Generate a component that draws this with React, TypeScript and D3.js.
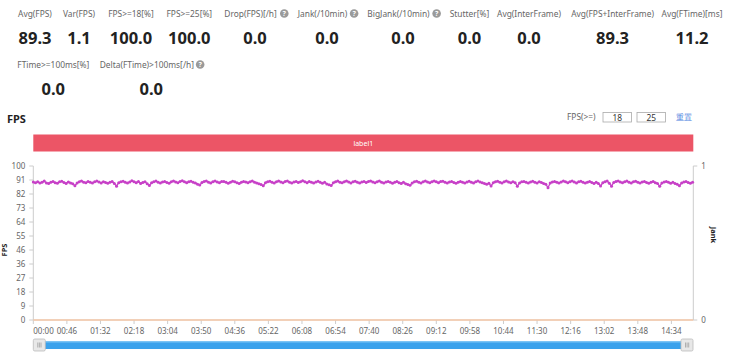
import React from "react";
import * as d3 from "d3";

// ---------- data ----------
const statLabels = [
  "Avg(FPS)", "Var(FPS)", "FPS>=18[%]", "FPS>=25[%]", "Drop(FPS)[/h]", "Jank(/10min)",
  "BigJank(/10min)", "Stutter[%]", "Avg(InterFrame)", "Avg(FPS+InterFrame)", "Avg(FTime)[ms]",
];
const statValues = ["89.3", "1.1", "100.0", "100.0", "0.0", "0.0", "0.0", "0.0", "0.0", "89.3", "11.2"];
const statHelp = [false, false, false, false, true, true, true, false, false, false, false];

const stat2Labels = ["FTime>=100ms[%]", "Delta(FTime)>100ms[/h]"];
const stat2Values = ["0.0", "0.0"];
const stat2Help = [false, true];

const yTickLabels = ["0", "9", "18", "27", "36", "46", "55", "64", "73", "82", "91", "100"];
const xTickLabels = [
  "00:00", "00:46", "01:32", "02:18", "03:04", "03:50", "04:36", "05:22", "06:08", "06:54",
  "07:40", "08:26", "09:12", "09:58", "10:44", "11:30", "12:16", "13:02", "13:48", "14:34",
];
const jankTickLabels = ["0", "1"];

const sampleStepSec = 3;
const totalSec = 904;
const fpsValues = [
  89.6, 89.1, 89.8, 88.9, 89.4, 90.2, 89.0, 88.6, 89.5, 89.9, 89.2, 88.8, 89.7, 90.1, 89.3, 88.7, 89.6, 89.0, 88.4, 87.2,
  88.9, 89.8, 90.3, 89.5, 89.1, 90.0, 89.4, 88.9, 89.7, 90.2, 89.6, 89.0, 89.8, 89.3, 88.8, 89.5, 89.9, 88.6, 86.9, 89.2,
  89.7, 90.1, 89.4, 88.9, 89.6, 90.4, 89.8, 89.2, 89.9, 88.7, 89.3, 89.8, 88.5, 87.4, 89.1, 89.7, 90.2, 89.5, 88.9, 89.6,
  90.0, 89.3, 88.8, 89.7, 90.3, 89.6, 89.1, 89.9, 90.4, 89.7, 89.2, 89.8, 90.1, 89.4, 88.9, 88.2, 87.6, 89.3, 89.9, 90.2,
  89.5, 89.0, 89.8, 90.3, 89.6, 89.2, 89.9, 90.0, 89.4, 88.8, 89.5, 90.1, 89.7, 89.1, 88.6, 89.4, 90.0, 89.6, 89.2, 89.8,
  90.2, 89.5, 89.0, 88.4, 88.0, 87.1, 89.2, 89.8, 90.1, 89.4, 89.0, 89.7, 90.3, 89.6, 89.1, 89.9, 90.2, 89.5, 88.9, 89.6,
  90.0, 89.3, 89.8, 90.4, 89.7, 89.2, 89.9, 89.5, 88.9, 89.6, 90.1, 89.4, 88.8, 89.5, 88.3, 87.8, 87.3, 89.1, 89.8, 90.2,
  89.5, 89.1, 89.8, 90.3, 89.6, 89.0, 89.7, 90.1, 89.4, 88.9, 89.6, 90.0, 89.3, 89.9, 90.3, 89.6, 89.1, 89.8, 90.2, 89.5,
  88.9, 89.6, 90.0, 89.4, 88.8, 89.5, 89.9, 89.2, 88.7, 89.4, 88.5, 88.0, 87.5, 89.0, 89.7, 90.1, 89.5, 89.0, 89.7, 90.2,
  89.6, 89.1, 89.8, 90.3, 89.7, 89.2, 89.9, 90.1, 89.5, 88.9, 89.6, 90.0, 89.3, 88.8, 89.5, 89.9, 89.4, 88.9, 89.6, 90.1,
  89.5, 89.0, 89.7, 90.2, 89.6, 89.1, 88.6, 88.1, 88.8, 87.0, 89.2, 89.8, 90.1, 89.5, 89.0, 89.7, 90.2, 89.6, 89.1, 89.8,
  89.2, 86.8, 89.0, 89.7, 90.0, 89.4, 88.9, 89.6, 90.1, 89.5, 89.0, 89.7, 89.3, 88.7, 88.2, 85.9, 88.9, 89.6, 90.0, 89.4,
  88.9, 89.6, 90.2, 89.7, 89.1, 89.8, 90.3, 89.6, 89.0, 89.7, 90.1, 89.4, 88.9, 89.5, 90.0, 89.3, 88.7, 89.4, 88.6, 87.0,
  89.1, 89.8, 90.2, 88.8, 86.9, 89.3, 89.9, 90.3, 89.6, 89.1, 89.8, 90.2, 89.5, 89.0, 89.7, 90.1, 89.4, 88.9, 89.6, 90.0,
  89.3, 88.8, 89.5, 89.9, 89.2, 88.6, 86.8, 88.9, 89.6, 90.0, 89.4, 88.8, 89.5, 88.7, 88.1, 87.2, 89.0, 89.6, 89.9, 89.3,
  88.8, 89.5,
];
const jankSeries: [number, number][] = [[0, 0], [904, 0]];
const bandLabel = "label1";
const thresholds = ["18", "25"];

// ---------- layout ----------
const W = 730, H = 356;
const left = 33.3, right = 693.3, top = 166, bottom = 320;
const statCx = [35, 79, 131, 189.3, 255, 327, 403, 469.5, 529, 612.6, 692];
const stat2Cx = [53.3, 151.3];
const FONT = "'Noto Sans', 'DejaVu Sans', sans-serif";

const toSec = (s: string) => {
  const [m, ss] = s.split(":").map(Number);
  return m * 60 + ss;
};

function Help({ x, y }: { x: number; y: number }) {
  return (
    <g>
      <circle cx={x} cy={y} r={4.3} fill="#9a9a9a" />
      <text x={x} y={y + 2.6} fontSize={7} fontWeight="bold" fill="#fff" textAnchor="middle" fontFamily={FONT}>?</text>
    </g>
  );
}

function StatRow({ labels, values, help, cx, ly, vy }: any) {
  return (
    <g>
      {labels.map((l: string, i: number) => {
        const w = help[i] ? 9 : 0;
        return (
          <g key={l}>
            <text x={cx[i] - w / 2} y={ly} fontSize={8.4} fill="#666" textAnchor="middle" fontFamily={FONT}>{l}</text>
            {help[i] && <Help x={cx[i] + (l.length * 4.35) / 2 + 1} y={ly - 3} />}
            <text x={cx[i]} y={vy} fontSize={16.5} fontWeight="bold" fill="#222" textAnchor="middle" fontFamily={FONT}>{values[i]}</text>
          </g>
        );
      })}
    </g>
  );
}

export default function App() {
  const x = d3.scaleLinear().domain([0, totalSec]).range([left, right]);
  const y = d3.scaleLinear().domain([0, 100]).range([bottom, top]);
  const yJ = d3.scaleLinear().domain([0, 1]).range([bottom, top]);

  const pts: [number, number][] = fpsValues.map((v, i) => [i * sampleStepSec, v]);
  const line = d3.line<[number, number]>().x((d) => x(d[0])).y((d) => y(d[1]));
  const jankLine = d3.line<[number, number]>().x((d) => x(d[0])).y((d) => yJ(d[1]));

  const magenta = "#c740c7";

  return (
    <svg width={W} height={H} style={{ position: "absolute", left: 0, top: 0, background: "#fff" }} fontFamily={FONT}>
      <rect width={W} height={H} fill="#fff" />
      <StatRow labels={statLabels} values={statValues} help={statHelp} cx={statCx} ly={16.5} vy={43.5} />
      <StatRow labels={stat2Labels} values={stat2Values} help={stat2Help} cx={stat2Cx} ly={67.5} vy={95} />

      {/* title */}
      <text x={7} y={123} fontSize={11} fontWeight="bold" fill="#222">FPS</text>

      {/* threshold controls */}
      <text x={567} y={120} fontSize={8.4} fill="#666">FPS(&gt;=)</text>
      {thresholds.map((t, i) => (
        <g key={i}>
          <rect x={603 + i * 34} y={112.5} width={28.5} height={9.5} fill="#fff" stroke="#aaa" strokeWidth={0.8} />
          <text x={617.2 + i * 34} y={120.5} fontSize={8.4} fill="#333" textAnchor="middle">{t}</text>
        </g>
      ))}
      <text x={676} y={120} fontSize={8.4} fill="#4a80e0">重置</text>

      {/* label band */}
      <rect x={left} y={134.5} width={right - left} height={17} fill="#ec5566" />
      <text x={(left + right) / 2} y={145.5} fontSize={7} fill="#fff" textAnchor="middle">{bandLabel}</text>

      {/* axes */}
      <line x1={left} x2={left} y1={top} y2={bottom} stroke="#ccc" strokeWidth={1} />
      <line x1={right} x2={right} y1={top} y2={bottom} stroke="#ccc" strokeWidth={1} />
      <line x1={left} x2={right} y1={bottom} y2={bottom} stroke="#ccc" strokeWidth={1} />
      {yTickLabels.map((l, i) => {
        const yy = y((i * 100) / (yTickLabels.length - 1));
        return (
          <g key={l}>
            <line x1={left - 4} x2={left} y1={yy} y2={yy} stroke="#ccc" />
            <text x={left - 8} y={yy + 3} fontSize={8} fill="#666" textAnchor="end">{l}</text>
          </g>
        );
      })}
      {jankTickLabels.map((l, i) => {
        const yy = yJ(i);
        return (
          <g key={l}>
            <line x1={right} x2={right + 4} y1={yy} y2={yy} stroke="#ccc" />
            <text x={right + 8} y={yy + 3} fontSize={8} fill="#666">{l}</text>
          </g>
        );
      })}
      {xTickLabels.map((l, i) => {
        const xx = x(toSec(l));
        return (
          <g key={l}>
            <line x1={xx} x2={xx} y1={bottom} y2={bottom + 4} stroke="#ccc" />
            <text x={xx} y={334} fontSize={8} fill="#666" textAnchor={i === 0 ? "start" : "middle"}>{l}</text>
          </g>
        );
      })}
      <text transform={`translate(6.5,250) rotate(-90)`} fontSize={7.5} fontWeight="bold" fill="#222" textAnchor="middle">FPS</text>
      <text transform={`translate(711,235) rotate(90)`} fontSize={7.5} fontWeight="bold" fill="#222" textAnchor="middle">Jank</text>

      {/* jank series */}
      <path d={jankLine(jankSeries) || ""} fill="none" stroke="#f6c9a8" strokeWidth={1.5} />

      {/* fps series */}
      <path d={line(pts) || ""} fill="none" stroke={magenta} strokeWidth={1.3} />
      {pts.map((p, i) => (
        <circle key={i} cx={x(p[0])} cy={y(p[1])} r={1.5} fill={magenta} />
      ))}

      {/* slider */}
      <rect x={44} y={341} width={638} height={8} fill="#3ba2ec" />
      <rect x={44} y={341} width={638} height={1.5} fill="#7cc4f5" />
      {[left, 681].map((hx, i) => (
        <g key={i}>
          <rect x={hx} y={339} width={12} height={12} rx={1.5} fill="#e8e8e8" stroke="#bbb" strokeWidth={0.8} />
          {[0, 1, 2].map((k) => (
            <line key={k} x1={hx + 4.5 + k * 1.6} x2={hx + 4.5 + k * 1.6} y1={342.5} y2={347.5} stroke="#888" strokeWidth={0.6} />
          ))}
        </g>
      ))}
    </svg>
  );
}
